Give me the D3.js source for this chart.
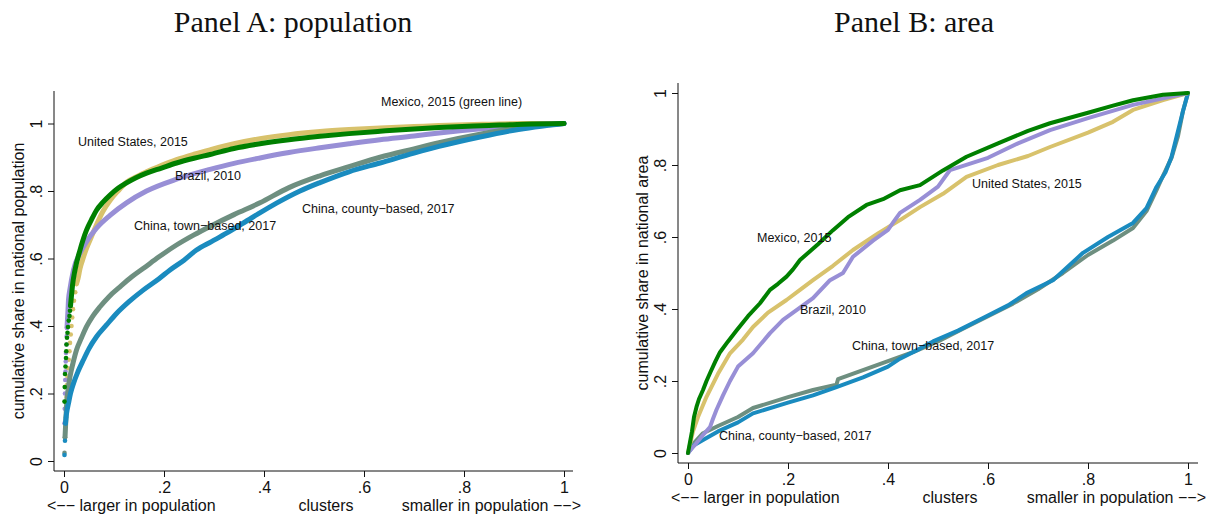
<!DOCTYPE html>
<html>
<head>
<meta charset="utf-8">
<script src="https://cdn.jsdelivr.net/npm/d3@7"></script>
<style>
  body { margin: 0; background: #fff; }
  svg { display: block; }
  text { font-family: "Liberation Sans", Arial, sans-serif; fill: #111; }
</style>
</head>
<body>
<svg width="1209" height="517"></svg>
<script>
// ---- data: [cluster share, cumulative share] ----
var ticks = [0, 0.2, 0.4, 0.6, 0.8, 1];

// Panel A: population
var popUS = [[.002,.07],[.004,.13],[.005,.19],[.006,.225],[.007,.25],[.008,.275],[.0095,.30],[.011,.325],[.012,.35],[.0135,.375],[.015,.40],[.0165,.425],[.018,.45],[.020,.475],[.0225,.50],[.025,.525],
  [.028,.54],[.032,.57],[.037,.595],[.045,.63],[.055,.665],[.065,.70],[.078,.74],[.092,.772],[.108,.80],[.125,.826],[.145,.842],[.165,.857],[.195,.876],[.225,.893],[.26,.909],[.292,.922],[.34,.94],[.392,.955],[.45,.967],[.512,.976],[.57,.982],[.632,.987],[.7,.991],[.75,.994],[.85,.998],[.92,1],[1,1]];
var popMX = [[.001,.176],[.0015,.219],[.002,.258],[.003,.28],[.004,.305],[.0045,.325],[.005,.345],[.006,.365],[.007,.38],[.008,.397],[.0095,.416],[.011,.43],[.012,.445],[.013,.46],
  [.015,.49],[.017,.52],[.022,.566],[.032,.625],[.045,.684],[.055,.715],[.065,.743],[.078,.767],[.092,.788],[.108,.808],[.125,.824],[.145,.84],[.165,.853],[.195,.868],[.225,.883],[.26,.897],[.292,.908],[.34,.926],[.392,.94],[.45,.952],[.512,.962],[.57,.97],[.632,.977],[.7,.984],[.75,.988],[.85,.994],[.92,.998],[1,1]];
var popBR = [[.001,.112],[.0015,.155],[.002,.20],[.0025,.24],[.003,.265],[.0035,.295],[.004,.32],[.005,.345],[.0055,.37],[.006,.395],
  [.007,.42],[.008,.447],[.009,.477],[.012,.51],[.019,.566],[.032,.616],[.045,.65],[.065,.69],[.092,.728],[.125,.765],[.165,.80],[.225,.835],[.292,.864],[.34,.882],[.392,.898],[.45,.914],[.512,.928],[.57,.94],[.632,.952],[.7,.963],[.75,.972],[.85,.987],[.92,.995],[1,1]];
var popCNTown = [[.001,.024],[.002,.07],
  [.003,.10],[.005,.161],[.008,.21],[.012,.25],[.018,.29],[.025,.329],[.035,.365],[.045,.398],[.058,.43],[.072,.457],[.09,.487],[.112,.516],[.135,.545],[.159,.571],[.19,.605],[.225,.64],[.26,.67],[.292,.695],[.34,.73],[.392,.765],[.45,.81],[.512,.845],[.57,.872],[.632,.90],[.7,.925],[.75,.943],[.832,.968],[.9,.985],[1,1]];
var popCNCounty = [[.001,.018],[.002,.06],[.003,.112],
  [.005,.14],[.009,.171],[.013,.2],[.019,.23],[.028,.265],[.039,.30],[.05,.333],[.065,.368],[.085,.403],[.105,.437],[.13,.472],[.159,.507],[.19,.54],[.212,.566],[.24,.595],[.265,.625],[.295,.65],[.325,.675],[.375,.72],[.425,.764],[.472,.80],[.512,.825],[.57,.857],[.632,.883],[.7,.912],[.75,.932],[.832,.96],[.9,.98],[1,1]];

// Panel B: area
var areaMX = [[0,0],[.004,.03],[.008,.06],[.012,.1],[.017,.128],[.022,.15],[.03,.175],[.037,.2],[.045,.225],[.055,.255],[.064,.28],[.08,.31],[.097,.34],[.12,.38],[.144,.416],[.164,.453],[.18,.47],[.197,.49],[.21,.51],[.224,.536],[.26,.58],[.29,.619],[.32,.655],[.357,.689],[.39,.705],[.424,.73],[.464,.744],[.51,.785],[.557,.823],[.62,.86],[.68,.895],[.724,.916],[.8,.945],[.85,.965],[.89,.98],[.95,.995],[1,1]];
var areaUS = [[0,0],[.005,.03],[.01,.06],[.02,.1],[.037,.156],[.06,.22],[.084,.277],[.11,.315],[.13,.35],[.16,.39],[.197,.425],[.224,.453],[.25,.48],[.29,.52],[.33,.564],[.38,.61],[.424,.647],[.464,.683],[.51,.72],[.557,.767],[.62,.80],[.68,.825],[.724,.85],[.8,.89],[.85,.92],[.89,.953],[.95,.98],[1,1]];
var areaBR = [[0,0],[.017,.028],[.03,.05],[.044,.072],[.05,.095],[.057,.12],[.07,.16],[.084,.2],[.1,.24],[.13,.277],[.164,.333],[.19,.37],[.217,.397],[.25,.43],[.284,.48],[.31,.50],[.33,.545],[.37,.59],[.40,.62],[.41,.64],[.424,.667],[.464,.703],[.5,.74],[.524,.786],[.6,.82],[.66,.86],[.724,.897],[.8,.93],[.89,.967],[.95,.985],[1,1]];
var areaCNTown = [[0,0],[.01,.025],[.03,.055],[.06,.075],[.1,.1],[.13,.125],[.2,.155],[.25,.175],[.297,.19],[.30,.205],[.35,.23],[.4,.255],[.45,.28],[.5,.31],[.55,.345],[.6,.38],[.65,.415],[.7,.455],[.75,.5],[.8,.55],[.85,.59],[.89,.625],[.917,.672],[.937,.73],[.95,.77],[.967,.82],[.98,.88],[.99,.95],[1,1]];
var areaCNCounty = [[0,0],[.01,.02],[.03,.036],[.06,.06],[.1,.085],[.13,.11],[.2,.14],[.25,.16],[.297,.183],[.35,.21],[.4,.24],[.424,.262],[.464,.29],[.49,.31],[.54,.34],[.59,.375],[.64,.41],[.677,.444],[.73,.48],[.79,.556],[.84,.60],[.89,.639],[.917,.68],[.937,.739],[.955,.78],[.967,.822],[.977,.878],[.99,.95],[1,1]];

// labels placed in data coordinates (left edge, baseline)
var popLabels = [
  ["United States, 2015", .028, .932],
  ["Brazil, 2010", .222, .834],
  ["China, town\u2212based, 2017", .14, .683],
  ["Mexico, 2015 (green line)", .634, 1.053],
  ["China, county\u2212based, 2017", .476, .736]
];
var areaLabels = [
  ["Mexico, 2015", .138, .5875],
  ["United States, 2015", .568, .7375],
  ["Brazil, 2010", .224, .3875],
  ["China, town\u2212based, 2017", .328, .285],
  ["China, county\u2212based, 2017", .062, .035]
];

var cUS = "#d8c26c", cMX = "#008000", cBR = "#988fd6", cTown = "#6e8f80", cCounty = "#1a8bbf";

var svg = d3.select("svg");

function fmt(d) {
  if (d === 0) return "0";
  if (d === 1) return "1";
  return String(d).replace(/^0/, "");
}

function drawPanel(p) {
  var g = svg.append("g");
  var x = d3.scaleLinear().domain([0, 1]).range(p.xr);
  var y = d3.scaleLinear().domain([0, 1]).range(p.yr);

  // title
  g.append("text")
    .attr("x", p.titleX).attr("y", 32)
    .attr("text-anchor", "middle")
    .style("font-family", "'Liberation Serif', 'DejaVu Serif', serif")
    .style("font-size", "30px")
    .text(p.title);

  // x axis
  var xa = g.append("g")
    .attr("transform", "translate(0," + p.axisY + ")")
    .call(d3.axisBottom(x).tickValues(ticks).tickFormat(fmt).tickSize(6).tickPadding(5).tickSizeOuter(0));
  xa.select(".domain").remove();
  xa.selectAll("line").attr("stroke", "#111");
  xa.selectAll("text").style("font-size", "16px").attr("font-family", null);
  xa.append("line").attr("x1", p.axisX).attr("x2", p.xEnd).attr("stroke", "#111");

  // y axis
  var ya = g.append("g")
    .attr("transform", "translate(" + p.axisX + ",0)")
    .call(d3.axisLeft(y).tickValues(ticks).tickFormat(fmt).tickSize(6).tickSizeOuter(0));
  ya.select(".domain").remove();
  ya.selectAll("line").attr("stroke", "#111");
  ya.selectAll("text")
    .attr("x", null).attr("dy", null)
    .attr("text-anchor", "middle")
    .attr("transform", "translate(-12,0) rotate(-90)")
    .style("font-size", "16px").attr("font-family", null);
  ya.append("line").attr("y1", p.yTop).attr("y2", p.axisY).attr("stroke", "#111");

  // axis titles
  var xl = [["<\u2212\u2212 larger in population", p.axisX - 7, "start"],
            ["clusters", p.xr[0] + 262, "middle"],
            ["smaller in population \u2212\u2212>", p.xEnd + 8, "end"]];
  g.selectAll(".xl").data(xl).enter().append("text")
    .attr("x", function (d) { return d[1]; })
    .attr("y", p.axisY + 40)
    .attr("text-anchor", function (d) { return d[2]; })
    .style("font-size", "16px")
    .text(function (d) { return d[0]; });

  g.append("text")
    .attr("transform", "translate(" + p.yTitleX + "," + (p.yTop + p.axisY) / 2 + ") rotate(-90)")
    .attr("text-anchor", "middle")
    .style("font-size", "16px")
    .text(p.yTitle);

  // curves
  var line = d3.line()
    .x(function (d) { return x(d[0]); })
    .y(function (d) { return y(d[1]); })
    .curve(p.curve);

  p.series.forEach(function (s) {
    var head = s.head || 0;
    g.append("path")
      .datum(s.data.slice(Math.max(head - 1, 0)))
      .attr("fill", "none")
      .attr("stroke", s.color)
      .attr("stroke-width", p.lw)
      .attr("stroke-linecap", "round")
      .attr("stroke-linejoin", "round")
      .attr("d", line);
    g.selectAll(null)
      .data(s.data.slice(0, head))
      .enter().append("circle")
      .attr("cx", function (d) { return x(d[0]); })
      .attr("cy", function (d) { return y(d[1]); })
      .attr("r", 2.3)
      .attr("fill", s.color);
  });

  // labels
  g.selectAll(".lab").data(p.labels).enter().append("text")
    .attr("x", function (d) { return x(d[1]); })
    .attr("y", function (d) { return y(d[2]); })
    .style("font-size", "12.5px")
    .text(function (d) { return d[0]; });
}

drawPanel({
  title: "Panel A: population", titleX: 293,
  xr: [64, 564], yr: [461, 123.5],
  axisX: 54, axisY: 471, xEnd: 573, yTop: 91,
  yTitle: "cumulative share in national population", yTitleX: 23.5,
  curve: d3.curveMonotoneX, lw: 5,
  series: [
    { data: popUS, color: cUS, head: 16 },
    { data: popBR, color: cBR, head: 10 },
    { data: popCNTown, color: cTown, head: 2 },
    { data: popCNCounty, color: cCounty, head: 3 },
    { data: popMX, color: cMX, head: 14 }
  ],
  labels: popLabels
});

drawPanel({
  title: "Panel B: area", titleX: 914,
  xr: [688, 1188], yr: [453, 93],
  axisX: 678, axisY: 463, xEnd: 1198, yTop: 83,
  yTitle: "cumulative share in national area", yTitleX: 648,
  curve: d3.curveLinear, lw: 4,
  series: [
    { data: areaCNTown, color: cTown },
    { data: areaCNCounty, color: cCounty },
    { data: areaUS, color: cUS },
    { data: areaBR, color: cBR },
    { data: areaMX, color: cMX }
  ],
  labels: areaLabels
});
</script>
</body>
</html>
